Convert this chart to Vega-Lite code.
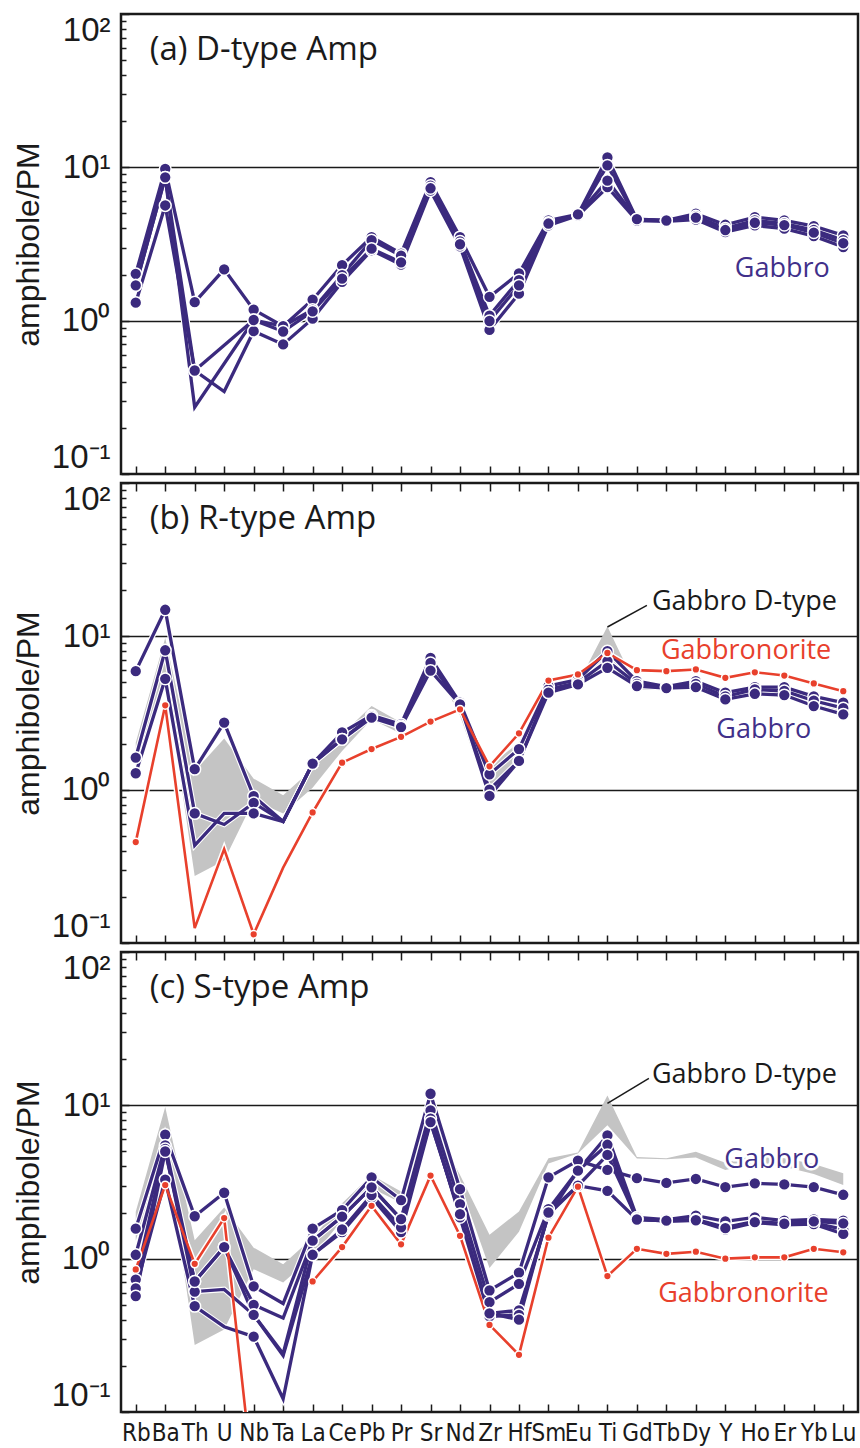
{
"$schema":"https://vega.github.io/schema/vega-lite/v6.json",
"background":"white",
"padding":{"left":11,"top":3,"right":2,"bottom":0},
"spacing":-4,
"config":{"view":{"stroke":"#1a1a1a","strokeWidth":2.5},"font":"Liberation Sans","axis":{"domain":false,"tickColor":"#1a1a1a","labelColor":"#1a1a1a","titleColor":"#1a1a1a"}},
"datasets":{
"a":[
{"sample":"D1","rock":"Gabbro","element":"Rb","value":2.02},{"sample":"D1","rock":"Gabbro","element":"Ba","value":9.76},{"sample":"D1","rock":"Gabbro","element":"Th","value":1.32},{"sample":"D1","rock":"Gabbro","element":"U","value":2.16},{"sample":"D1","rock":"Gabbro","element":"Nb","value":1.18},{"sample":"D1","rock":"Gabbro","element":"Ta","value":0.92},{"sample":"D1","rock":"Gabbro","element":"La","value":1.37},{"sample":"D1","rock":"Gabbro","element":"Ce","value":2.30},{"sample":"D1","rock":"Gabbro","element":"Pb","value":3.51},{"sample":"D1","rock":"Gabbro","element":"Pr","value":2.74},{"sample":"D1","rock":"Gabbro","element":"Sr","value":7.99},{"sample":"D1","rock":"Gabbro","element":"Nd","value":3.51},{"sample":"D1","rock":"Gabbro","element":"Zr","value":1.43},{"sample":"D1","rock":"Gabbro","element":"Hf","value":2.03},{"sample":"D1","rock":"Gabbro","element":"Sm","value":4.51},{"sample":"D1","rock":"Gabbro","element":"Eu","value":4.93},{"sample":"D1","rock":"Gabbro","element":"Ti","value":11.6},{"sample":"D1","rock":"Gabbro","element":"Gd","value":4.57},{"sample":"D1","rock":"Gabbro","element":"Tb","value":4.51},{"sample":"D1","rock":"Gabbro","element":"Dy","value":4.98},{"sample":"D1","rock":"Gabbro","element":"Y","value":4.22},{"sample":"D1","rock":"Gabbro","element":"Ho","value":4.73},{"sample":"D1","rock":"Gabbro","element":"Er","value":4.51},{"sample":"D1","rock":"Gabbro","element":"Yb","value":4.14},{"sample":"D1","rock":"Gabbro","element":"Lu","value":3.60},
{"sample":"D2","rock":"Gabbro","element":"Rb","value":1.70},{"sample":"D2","rock":"Gabbro","element":"Ba","value":8.61},{"sample":"D2","rock":"Gabbro","element":"Th","value":0.473},{"sample":"D2","rock":"Gabbro","element":"Nb","value":1.01},{"sample":"D2","rock":"Gabbro","element":"Ta","value":0.92},{"sample":"D2","rock":"Gabbro","element":"La","value":1.18},{"sample":"D2","rock":"Gabbro","element":"Ce","value":1.98},{"sample":"D2","rock":"Gabbro","element":"Pb","value":3.35},{"sample":"D2","rock":"Gabbro","element":"Pr","value":2.65},{"sample":"D2","rock":"Gabbro","element":"Sr","value":7.6},{"sample":"D2","rock":"Gabbro","element":"Nd","value":3.29},{"sample":"D2","rock":"Gabbro","element":"Zr","value":1.08},{"sample":"D2","rock":"Gabbro","element":"Hf","value":1.84},{"sample":"D2","rock":"Gabbro","element":"Sm","value":4.35},{"sample":"D2","rock":"Gabbro","element":"Eu","value":4.9},{"sample":"D2","rock":"Gabbro","element":"Ti","value":10.3},{"sample":"D2","rock":"Gabbro","element":"Gd","value":4.57},{"sample":"D2","rock":"Gabbro","element":"Tb","value":4.48},{"sample":"D2","rock":"Gabbro","element":"Dy","value":4.8},{"sample":"D2","rock":"Gabbro","element":"Y","value":4.0},{"sample":"D2","rock":"Gabbro","element":"Ho","value":4.5},{"sample":"D2","rock":"Gabbro","element":"Er","value":4.3},{"sample":"D2","rock":"Gabbro","element":"Yb","value":3.9},{"sample":"D2","rock":"Gabbro","element":"Lu","value":3.35},
{"sample":"D3","rock":"Gabbro","element":"Rb","value":1.31},{"sample":"D3","rock":"Gabbro","element":"Ba","value":5.64},{"sample":"D3","rock":"Gabbro","element":"Th","value":0.473},{"sample":"D3","rock":"Gabbro","element":"U","value":0.345,"bdl":true},{"sample":"D3","rock":"Gabbro","element":"Nb","value":0.854},{"sample":"D3","rock":"Gabbro","element":"Ta","value":0.70},{"sample":"D3","rock":"Gabbro","element":"La","value":1.03},{"sample":"D3","rock":"Gabbro","element":"Ce","value":1.79},{"sample":"D3","rock":"Gabbro","element":"Pb","value":2.88},{"sample":"D3","rock":"Gabbro","element":"Pr","value":2.32},{"sample":"D3","rock":"Gabbro","element":"Sr","value":7.05},{"sample":"D3","rock":"Gabbro","element":"Nd","value":3.05},{"sample":"D3","rock":"Gabbro","element":"Zr","value":0.87},{"sample":"D3","rock":"Gabbro","element":"Hf","value":1.50},{"sample":"D3","rock":"Gabbro","element":"Sm","value":4.18},{"sample":"D3","rock":"Gabbro","element":"Eu","value":4.85},{"sample":"D3","rock":"Gabbro","element":"Ti","value":7.42},{"sample":"D3","rock":"Gabbro","element":"Gd","value":4.5},{"sample":"D3","rock":"Gabbro","element":"Tb","value":4.45},{"sample":"D3","rock":"Gabbro","element":"Dy","value":4.57},{"sample":"D3","rock":"Gabbro","element":"Y","value":3.78},{"sample":"D3","rock":"Gabbro","element":"Ho","value":4.18},{"sample":"D3","rock":"Gabbro","element":"Er","value":3.98},{"sample":"D3","rock":"Gabbro","element":"Yb","value":3.56},{"sample":"D3","rock":"Gabbro","element":"Lu","value":3.02},
{"sample":"D4","rock":"Gabbro","element":"Rb","value":1.70},{"sample":"D4","rock":"Gabbro","element":"Ba","value":8.61},{"sample":"D4","rock":"Gabbro","element":"Th","value":0.273,"bdl":true},{"sample":"D4","rock":"Gabbro","element":"Nb","value":1.01},{"sample":"D4","rock":"Gabbro","element":"Ta","value":0.85},{"sample":"D4","rock":"Gabbro","element":"La","value":1.15},{"sample":"D4","rock":"Gabbro","element":"Ce","value":1.88},{"sample":"D4","rock":"Gabbro","element":"Pb","value":2.95},{"sample":"D4","rock":"Gabbro","element":"Pr","value":2.4},{"sample":"D4","rock":"Gabbro","element":"Sr","value":7.3},{"sample":"D4","rock":"Gabbro","element":"Nd","value":3.15},{"sample":"D4","rock":"Gabbro","element":"Zr","value":0.995},{"sample":"D4","rock":"Gabbro","element":"Hf","value":1.70},{"sample":"D4","rock":"Gabbro","element":"Sm","value":4.3},{"sample":"D4","rock":"Gabbro","element":"Eu","value":4.93},{"sample":"D4","rock":"Gabbro","element":"Ti","value":8.19},{"sample":"D4","rock":"Gabbro","element":"Gd","value":4.6},{"sample":"D4","rock":"Gabbro","element":"Tb","value":4.5},{"sample":"D4","rock":"Gabbro","element":"Dy","value":4.7},{"sample":"D4","rock":"Gabbro","element":"Y","value":3.9},{"sample":"D4","rock":"Gabbro","element":"Ho","value":4.35},{"sample":"D4","rock":"Gabbro","element":"Er","value":4.2},{"sample":"D4","rock":"Gabbro","element":"Yb","value":3.75},{"sample":"D4","rock":"Gabbro","element":"Lu","value":3.2}
],
"b":[
{"sample":"P1","rock":"Gabbro","element":"Rb","value":5.93},{"sample":"P1","rock":"Gabbro","element":"Ba","value":14.9},{"sample":"P1","rock":"Gabbro","element":"Th","value":1.36},{"sample":"P1","rock":"Gabbro","element":"U","value":2.74},{"sample":"P1","rock":"Gabbro","element":"Nb","value":0.907},{"sample":"P1","rock":"Gabbro","element":"Ta","value":0.62,"bdl":true},{"sample":"P1","rock":"Gabbro","element":"La","value":1.48},{"sample":"P1","rock":"Gabbro","element":"Ce","value":2.36},{"sample":"P1","rock":"Gabbro","element":"Pb","value":3.05},{"sample":"P1","rock":"Gabbro","element":"Pr","value":2.67},{"sample":"P1","rock":"Gabbro","element":"Sr","value":7.23},{"sample":"P1","rock":"Gabbro","element":"Nd","value":3.69},{"sample":"P1","rock":"Gabbro","element":"Zr","value":1.26},{"sample":"P1","rock":"Gabbro","element":"Hf","value":1.84},{"sample":"P1","rock":"Gabbro","element":"Sm","value":4.74},{"sample":"P1","rock":"Gabbro","element":"Eu","value":5.23},{"sample":"P1","rock":"Gabbro","element":"Ti","value":8.0},{"sample":"P1","rock":"Gabbro","element":"Gd","value":5.1},{"sample":"P1","rock":"Gabbro","element":"Tb","value":4.7},{"sample":"P1","rock":"Gabbro","element":"Dy","value":5.1},{"sample":"P1","rock":"Gabbro","element":"Y","value":4.29},{"sample":"P1","rock":"Gabbro","element":"Ho","value":4.66},{"sample":"P1","rock":"Gabbro","element":"Er","value":4.66},{"sample":"P1","rock":"Gabbro","element":"Yb","value":4.06},{"sample":"P1","rock":"Gabbro","element":"Lu","value":3.69},
{"sample":"P2","rock":"Gabbro","element":"Rb","value":1.62},{"sample":"P2","rock":"Gabbro","element":"Ba","value":8.11},{"sample":"P2","rock":"Gabbro","element":"Th","value":0.70},{"sample":"P2","rock":"Gabbro","element":"U","value":0.593,"bdl":true},{"sample":"P2","rock":"Gabbro","element":"Nb","value":0.82},{"sample":"P2","rock":"Gabbro","element":"Ta","value":0.62,"bdl":true},{"sample":"P2","rock":"Gabbro","element":"La","value":1.48},{"sample":"P2","rock":"Gabbro","element":"Ce","value":2.13},{"sample":"P2","rock":"Gabbro","element":"Pb","value":3.0},{"sample":"P2","rock":"Gabbro","element":"Pr","value":2.6},{"sample":"P2","rock":"Gabbro","element":"Sr","value":6.71},{"sample":"P2","rock":"Gabbro","element":"Nd","value":3.6},{"sample":"P2","rock":"Gabbro","element":"Zr","value":1.0},{"sample":"P2","rock":"Gabbro","element":"Hf","value":1.54},{"sample":"P2","rock":"Gabbro","element":"Sm","value":4.5},{"sample":"P2","rock":"Gabbro","element":"Eu","value":5.0},{"sample":"P2","rock":"Gabbro","element":"Ti","value":6.9},{"sample":"P2","rock":"Gabbro","element":"Gd","value":4.9},{"sample":"P2","rock":"Gabbro","element":"Tb","value":4.66},{"sample":"P2","rock":"Gabbro","element":"Dy","value":4.9},{"sample":"P2","rock":"Gabbro","element":"Y","value":4.05},{"sample":"P2","rock":"Gabbro","element":"Ho","value":4.5},{"sample":"P2","rock":"Gabbro","element":"Er","value":4.4},{"sample":"P2","rock":"Gabbro","element":"Yb","value":3.8},{"sample":"P2","rock":"Gabbro","element":"Lu","value":3.4},
{"sample":"P3","rock":"Gabbro","element":"Rb","value":1.28},{"sample":"P3","rock":"Gabbro","element":"Ba","value":5.28},{"sample":"P3","rock":"Gabbro","element":"Th","value":0.433,"bdl":true},{"sample":"P3","rock":"Gabbro","element":"U","value":0.70,"bdl":true},{"sample":"P3","rock":"Gabbro","element":"Nb","value":0.70},{"sample":"P3","rock":"Gabbro","element":"Ta","value":0.62,"bdl":true},{"sample":"P3","rock":"Gabbro","element":"La","value":1.48},{"sample":"P3","rock":"Gabbro","element":"Ce","value":2.13},{"sample":"P3","rock":"Gabbro","element":"Pb","value":2.95},{"sample":"P3","rock":"Gabbro","element":"Pr","value":2.56},{"sample":"P3","rock":"Gabbro","element":"Sr","value":5.98},{"sample":"P3","rock":"Gabbro","element":"Nd","value":3.6},{"sample":"P3","rock":"Gabbro","element":"Zr","value":0.91},{"sample":"P3","rock":"Gabbro","element":"Hf","value":1.54},{"sample":"P3","rock":"Gabbro","element":"Sm","value":4.29},{"sample":"P3","rock":"Gabbro","element":"Eu","value":4.86},{"sample":"P3","rock":"Gabbro","element":"Ti","value":6.23},{"sample":"P3","rock":"Gabbro","element":"Gd","value":4.74},{"sample":"P3","rock":"Gabbro","element":"Tb","value":4.6},{"sample":"P3","rock":"Gabbro","element":"Dy","value":4.66},{"sample":"P3","rock":"Gabbro","element":"Y","value":3.88},{"sample":"P3","rock":"Gabbro","element":"Ho","value":4.22},{"sample":"P3","rock":"Gabbro","element":"Er","value":4.14},{"sample":"P3","rock":"Gabbro","element":"Yb","value":3.51},{"sample":"P3","rock":"Gabbro","element":"Lu","value":3.1},
{"sample":"N1","rock":"Gabbronorite","element":"Rb","value":0.455},{"sample":"N1","rock":"Gabbronorite","element":"Ba","value":3.55},{"sample":"N1","rock":"Gabbronorite","element":"Th","value":0.125,"bdl":true},{"sample":"N1","rock":"Gabbronorite","element":"U","value":0.41,"bdl":true},{"sample":"N1","rock":"Gabbronorite","element":"Nb","value":0.114},{"sample":"N1","rock":"Gabbronorite","element":"Ta","value":0.31,"bdl":true},{"sample":"N1","rock":"Gabbronorite","element":"La","value":0.71},{"sample":"N1","rock":"Gabbronorite","element":"Ce","value":1.50},{"sample":"N1","rock":"Gabbronorite","element":"Pb","value":1.84},{"sample":"N1","rock":"Gabbronorite","element":"Pr","value":2.21},{"sample":"N1","rock":"Gabbronorite","element":"Sr","value":2.78},{"sample":"N1","rock":"Gabbronorite","element":"Nd","value":3.34},{"sample":"N1","rock":"Gabbronorite","element":"Zr","value":1.42},{"sample":"N1","rock":"Gabbronorite","element":"Hf","value":2.33},{"sample":"N1","rock":"Gabbronorite","element":"Sm","value":5.15},{"sample":"N1","rock":"Gabbronorite","element":"Eu","value":5.64},{"sample":"N1","rock":"Gabbronorite","element":"Ti","value":7.79},{"sample":"N1","rock":"Gabbronorite","element":"Gd","value":6.02},{"sample":"N1","rock":"Gabbronorite","element":"Tb","value":5.93},{"sample":"N1","rock":"Gabbronorite","element":"Dy","value":6.08},{"sample":"N1","rock":"Gabbronorite","element":"Y","value":5.36},{"sample":"N1","rock":"Gabbronorite","element":"Ho","value":5.83},{"sample":"N1","rock":"Gabbronorite","element":"Er","value":5.55},{"sample":"N1","rock":"Gabbronorite","element":"Yb","value":4.93},{"sample":"N1","rock":"Gabbronorite","element":"Lu","value":4.39}
],
"c":[
{"sample":"C1","rock":"Gabbro","element":"Rb","value":1.57},{"sample":"C1","rock":"Gabbro","element":"Ba","value":6.43},{"sample":"C1","rock":"Gabbro","element":"Th","value":1.89},{"sample":"C1","rock":"Gabbro","element":"U","value":2.69},{"sample":"C1","rock":"Gabbro","element":"Nb","value":0.66},{"sample":"C1","rock":"Gabbro","element":"Ta","value":0.51,"bdl":true},{"sample":"C1","rock":"Gabbro","element":"La","value":1.57},{"sample":"C1","rock":"Gabbro","element":"Ce","value":2.07},{"sample":"C1","rock":"Gabbro","element":"Pb","value":3.39},{"sample":"C1","rock":"Gabbro","element":"Pr","value":2.41},{"sample":"C1","rock":"Gabbro","element":"Sr","value":11.9},{"sample":"C1","rock":"Gabbro","element":"Nd","value":2.84},{"sample":"C1","rock":"Gabbro","element":"Zr","value":0.62},{"sample":"C1","rock":"Gabbro","element":"Hf","value":0.81},{"sample":"C1","rock":"Gabbro","element":"Sm","value":3.39},{"sample":"C1","rock":"Gabbro","element":"Eu","value":4.36},{"sample":"C1","rock":"Gabbro","element":"Ti","value":3.79},{"sample":"C1","rock":"Gabbro","element":"Gd","value":3.35},{"sample":"C1","rock":"Gabbro","element":"Tb","value":3.12},{"sample":"C1","rock":"Gabbro","element":"Dy","value":3.31},{"sample":"C1","rock":"Gabbro","element":"Y","value":2.93},{"sample":"C1","rock":"Gabbro","element":"Ho","value":3.10},{"sample":"C1","rock":"Gabbro","element":"Er","value":3.05},{"sample":"C1","rock":"Gabbro","element":"Yb","value":2.93},{"sample":"C1","rock":"Gabbro","element":"Lu","value":2.61},
{"sample":"C2","rock":"Gabbro","element":"Rb","value":1.06},{"sample":"C2","rock":"Gabbro","element":"Ba","value":5.47},{"sample":"C2","rock":"Gabbro","element":"Th","value":0.71},{"sample":"C2","rock":"Gabbro","element":"U","value":1.19},{"sample":"C2","rock":"Gabbro","element":"Nb","value":0.50},{"sample":"C2","rock":"Gabbro","element":"Ta","value":0.41,"bdl":true},{"sample":"C2","rock":"Gabbro","element":"La","value":1.31},{"sample":"C2","rock":"Gabbro","element":"Ce","value":1.88},{"sample":"C2","rock":"Gabbro","element":"Pb","value":2.92},{"sample":"C2","rock":"Gabbro","element":"Pr","value":1.81},{"sample":"C2","rock":"Gabbro","element":"Sr","value":9.27},{"sample":"C2","rock":"Gabbro","element":"Nd","value":2.27},{"sample":"C2","rock":"Gabbro","element":"Zr","value":0.52},{"sample":"C2","rock":"Gabbro","element":"Hf","value":0.685},{"sample":"C2","rock":"Gabbro","element":"Sm","value":2.1},{"sample":"C2","rock":"Gabbro","element":"Eu","value":3.75},{"sample":"C2","rock":"Gabbro","element":"Ti","value":6.36},{"sample":"C2","rock":"Gabbro","element":"Gd","value":1.86},{"sample":"C2","rock":"Gabbro","element":"Tb","value":1.80},{"sample":"C2","rock":"Gabbro","element":"Dy","value":1.91},{"sample":"C2","rock":"Gabbro","element":"Y","value":1.75},{"sample":"C2","rock":"Gabbro","element":"Ho","value":1.86},{"sample":"C2","rock":"Gabbro","element":"Er","value":1.77},{"sample":"C2","rock":"Gabbro","element":"Yb","value":1.80},{"sample":"C2","rock":"Gabbro","element":"Lu","value":1.77},
{"sample":"C3","rock":"Gabbro","element":"Rb","value":0.73},{"sample":"C3","rock":"Gabbro","element":"Ba","value":5.2},{"sample":"C3","rock":"Gabbro","element":"Th","value":0.61},{"sample":"C3","rock":"Gabbro","element":"U","value":0.63,"bdl":true},{"sample":"C3","rock":"Gabbro","element":"Nb","value":0.43},{"sample":"C3","rock":"Gabbro","element":"Ta","value":0.233,"bdl":true},{"sample":"C3","rock":"Gabbro","element":"La","value":1.06},{"sample":"C3","rock":"Gabbro","element":"Ce","value":1.49},{"sample":"C3","rock":"Gabbro","element":"Pb","value":2.51},{"sample":"C3","rock":"Gabbro","element":"Pr","value":1.49},{"sample":"C3","rock":"Gabbro","element":"Sr","value":7.78},{"sample":"C3","rock":"Gabbro","element":"Nd","value":1.95},{"sample":"C3","rock":"Gabbro","element":"Zr","value":0.44},{"sample":"C3","rock":"Gabbro","element":"Hf","value":0.46},{"sample":"C3","rock":"Gabbro","element":"Sm","value":1.92},{"sample":"C3","rock":"Gabbro","element":"Eu","value":3.75},{"sample":"C3","rock":"Gabbro","element":"Ti","value":5.53},{"sample":"C3","rock":"Gabbro","element":"Gd","value":1.80},{"sample":"C3","rock":"Gabbro","element":"Tb","value":1.77},{"sample":"C3","rock":"Gabbro","element":"Dy","value":1.80},{"sample":"C3","rock":"Gabbro","element":"Y","value":1.60},{"sample":"C3","rock":"Gabbro","element":"Ho","value":1.75},{"sample":"C3","rock":"Gabbro","element":"Er","value":1.69},{"sample":"C3","rock":"Gabbro","element":"Yb","value":1.71},{"sample":"C3","rock":"Gabbro","element":"Lu","value":1.55},
{"sample":"C4","rock":"Gabbro","element":"Rb","value":0.64},{"sample":"C4","rock":"Gabbro","element":"Ba","value":3.27},{"sample":"C4","rock":"Gabbro","element":"Th","value":0.49},{"sample":"C4","rock":"Gabbro","element":"U","value":0.36,"bdl":true},{"sample":"C4","rock":"Gabbro","element":"Nb","value":0.31},{"sample":"C4","rock":"Gabbro","element":"Ta","value":0.122,"bdl":true},{"sample":"C4","rock":"Gabbro","element":"La","value":1.06},{"sample":"C4","rock":"Gabbro","element":"Ce","value":1.55},{"sample":"C4","rock":"Gabbro","element":"Pb","value":2.6},{"sample":"C4","rock":"Gabbro","element":"Pr","value":1.6},{"sample":"C4","rock":"Gabbro","element":"Sr","value":8.2},{"sample":"C4","rock":"Gabbro","element":"Nd","value":1.86},{"sample":"C4","rock":"Gabbro","element":"Zr","value":0.42},{"sample":"C4","rock":"Gabbro","element":"Hf","value":0.43},{"sample":"C4","rock":"Gabbro","element":"Sm","value":1.95},{"sample":"C4","rock":"Gabbro","element":"Eu","value":2.99},{"sample":"C4","rock":"Gabbro","element":"Ti","value":4.75},{"sample":"C4","rock":"Gabbro","element":"Gd","value":1.82},{"sample":"C4","rock":"Gabbro","element":"Tb","value":1.75},{"sample":"C4","rock":"Gabbro","element":"Dy","value":1.78},{"sample":"C4","rock":"Gabbro","element":"Y","value":1.55},{"sample":"C4","rock":"Gabbro","element":"Ho","value":1.72},{"sample":"C4","rock":"Gabbro","element":"Er","value":1.66},{"sample":"C4","rock":"Gabbro","element":"Yb","value":1.68},{"sample":"C4","rock":"Gabbro","element":"Lu","value":1.45},
{"sample":"C5","rock":"Gabbro","element":"Rb","value":0.57},{"sample":"C5","rock":"Gabbro","element":"Ba","value":5.0},{"sample":"C5","rock":"Gabbro","element":"Th","value":0.71},{"sample":"C5","rock":"Gabbro","element":"U","value":1.19},{"sample":"C5","rock":"Gabbro","element":"Nb","value":0.43},{"sample":"C5","rock":"Gabbro","element":"Ta","value":0.24,"bdl":true},{"sample":"C5","rock":"Gabbro","element":"La","value":1.31},{"sample":"C5","rock":"Gabbro","element":"Ce","value":1.88},{"sample":"C5","rock":"Gabbro","element":"Pb","value":2.92},{"sample":"C5","rock":"Gabbro","element":"Pr","value":1.81},{"sample":"C5","rock":"Gabbro","element":"Sr","value":7.78},{"sample":"C5","rock":"Gabbro","element":"Nd","value":1.95},{"sample":"C5","rock":"Gabbro","element":"Zr","value":0.44},{"sample":"C5","rock":"Gabbro","element":"Hf","value":0.40},{"sample":"C5","rock":"Gabbro","element":"Sm","value":2.0},{"sample":"C5","rock":"Gabbro","element":"Eu","value":2.99},{"sample":"C5","rock":"Gabbro","element":"Ti","value":2.77},{"sample":"C5","rock":"Gabbro","element":"Gd","value":1.80},{"sample":"C5","rock":"Gabbro","element":"Tb","value":1.77},{"sample":"C5","rock":"Gabbro","element":"Dy","value":1.78},{"sample":"C5","rock":"Gabbro","element":"Y","value":1.58},{"sample":"C5","rock":"Gabbro","element":"Ho","value":1.73},{"sample":"C5","rock":"Gabbro","element":"Er","value":1.69},{"sample":"C5","rock":"Gabbro","element":"Yb","value":1.75},{"sample":"C5","rock":"Gabbro","element":"Lu","value":1.70},
{"sample":"N2a","rock":"Gabbronorite","element":"Rb","value":0.85},{"sample":"N2a","rock":"Gabbronorite","element":"Ba","value":3.02},{"sample":"N2a","rock":"Gabbronorite","element":"Th","value":0.925},{"sample":"N2a","rock":"Gabbronorite","element":"U","value":1.84},{"sample":"N2a","rock":"Gabbronorite","element":"Nb","value":0.033,"bdl":true},
{"sample":"N2b","rock":"Gabbronorite","element":"La","value":0.71},{"sample":"N2b","rock":"Gabbronorite","element":"Ce","value":1.19},{"sample":"N2b","rock":"Gabbronorite","element":"Pb","value":2.21},{"sample":"N2b","rock":"Gabbronorite","element":"Pr","value":1.24},{"sample":"N2b","rock":"Gabbronorite","element":"Sr","value":3.48},{"sample":"N2b","rock":"Gabbronorite","element":"Nd","value":1.41},{"sample":"N2b","rock":"Gabbronorite","element":"Zr","value":0.37},{"sample":"N2b","rock":"Gabbronorite","element":"Hf","value":0.236},{"sample":"N2b","rock":"Gabbronorite","element":"Sm","value":1.37},{"sample":"N2b","rock":"Gabbronorite","element":"Eu","value":2.95},{"sample":"N2b","rock":"Gabbronorite","element":"Ti","value":0.77},{"sample":"N2b","rock":"Gabbronorite","element":"Gd","value":1.16},{"sample":"N2b","rock":"Gabbronorite","element":"Tb","value":1.075},{"sample":"N2b","rock":"Gabbronorite","element":"Dy","value":1.11},{"sample":"N2b","rock":"Gabbronorite","element":"Y","value":1.0},{"sample":"N2b","rock":"Gabbronorite","element":"Ho","value":1.02},{"sample":"N2b","rock":"Gabbronorite","element":"Er","value":1.02},{"sample":"N2b","rock":"Gabbronorite","element":"Yb","value":1.16},{"sample":"N2b","rock":"Gabbronorite","element":"Lu","value":1.10}
]
},
"vconcat":[
{
"width":737,"height":460,
"data":{"name":"a"},
"resolve":{"axis":{"x":"independent","y":"independent"}},
"encoding":{
"x":{"field":"element","type":"ordinal","sort":["Rb","Ba","Th","U","Nb","Ta","La","Ce","Pb","Pr","Sr","Nd","Zr","Hf","Sm","Eu","Ti","Gd","Tb","Dy","Y","Ho","Er","Yb","Lu"],"scale":{"type":"point","padding":0.5},"axis":null},
"y":{"field":"value","type":"quantitative","scale":{"type":"log","domain":[0.1,100],"nice":false},"axis":null}
},
"layer":[
{"mark":{"type":"line","color":"white","strokeWidth":5.5,"clip":true},
 "encoding":{"detail":{"field":"sample"},
 "x":{"field":"element","type":"ordinal","sort":["Rb","Ba","Th","U","Nb","Ta","La","Ce","Pb","Pr","Sr","Nd","Zr","Hf","Sm","Eu","Ti","Gd","Tb","Dy","Y","Ho","Er","Yb","Lu"],"scale":{"type":"point","padding":0.5},"axis":{"orient":"bottom","labels":false,"tickSize":-8,"tickWidth":1.5,"grid":false,"title":null}}}},
{"mark":{"type":"line","clip":true},
 "encoding":{"detail":{"field":"sample"},
 "color":{"field":"rock","type":"nominal","scale":{"domain":["Gabbro","Gabbronorite"],"range":["#3b2a7e","#e8402c"]},"legend":null},
 "strokeWidth":{"field":"rock","type":"ordinal","scale":{"domain":["Gabbro","Gabbronorite"],"range":[3.3,2.6]},"legend":null},
 "y":{"field":"value","type":"quantitative","scale":{"type":"log","domain":[0.1,100],"nice":false},
  "axis":{"orient":"left","values":[0.1,0.2,0.3,0.4,0.5,0.6,0.7,0.8,0.9,1,2,3,4,5,6,7,8,9,10,20,30,40,50,60,70,80,90,100],"labelExpr":"datum.value==100?'10²':datum.value==10?'10¹':datum.value==1?'10⁰':datum.value==0.1?'10⁻¹':''","labelFont":"Liberation Sans","labelFontSize":33,"labelFlush":true,"labelOverlap":false,"labelPadding":19,"tickSize":{"condition":{"test":"datum.value==0.1||datum.value==1||datum.value==10||datum.value==100","value":-8},"value":-5},"tickWidth":1.5,"grid":true,"gridColor":"#1a1a1a","gridWidth":1.3,"gridOpacity":{"condition":{"test":"datum.value==1||datum.value==10","value":1},"value":0},"title":"amphibole/PM","titleFont":"Liberation Sans","titleFontSize":32,"titleFontWeight":"normal","titlePadding":6}}}},
{"transform":[{"filter":"!datum.bdl"}],
 "mark":{"type":"point","filled":true,"stroke":"white","strokeWidth":1.5,"opacity":1,"clip":true},
 "encoding":{"color":{"field":"rock","type":"nominal","scale":{"domain":["Gabbro","Gabbronorite"],"range":["#3b2a7e","#e8402c"]},"legend":null},
 "size":{"field":"rock","type":"ordinal","scale":{"domain":["Gabbro","Gabbronorite"],"range":[140,60]},"legend":null}}},
{"data":{"values":[{"element":"Rb","value":58,"label":"(a) D-type Amp"}]},
 "mark":{"type":"text","align":"left","baseline":"middle","dx":14,"font":"Open Sans","fontSize":33,"color":"#1a1a1a"},
 "encoding":{"text":{"field":"label"}}},
{"data":{"values":[{"element":"Er","value":2.17,"label":"Gabbro"}]},
 "mark":{"type":"text","align":"center","baseline":"middle","dx":-2,"font":"Open Sans","fontSize":27,"color":"#41308a"},
 "encoding":{"text":{"field":"label"}}}
]
},
{
"width":737,"height":460,
"data":{"name":"b"},
"resolve":{"axis":{"x":"independent","y":"independent"}},
"encoding":{
"x":{"field":"element","type":"ordinal","sort":["Rb","Ba","Th","U","Nb","Ta","La","Ce","Pb","Pr","Sr","Nd","Zr","Hf","Sm","Eu","Ti","Gd","Tb","Dy","Y","Ho","Er","Yb","Lu"],"scale":{"type":"point","padding":0.5},"axis":null},
"y":{"field":"value","type":"quantitative","scale":{"type":"log","domain":[0.1,100],"nice":false},"axis":null}
},
"layer":[
{"data":{"name":"a"},
 "transform":[{"aggregate":[{"op":"min","field":"value","as":"lo"},{"op":"max","field":"value","as":"hi"}],"groupby":["element"]}],
 "mark":{"type":"area","color":"#c4c4c4","opacity":1,"clip":true},
 "encoding":{
 "x":{"field":"element","type":"ordinal","sort":["Rb","Ba","Th","U","Nb","Ta","La","Ce","Pb","Pr","Sr","Nd","Zr","Hf","Sm","Eu","Ti","Gd","Tb","Dy","Y","Ho","Er","Yb","Lu"],"scale":{"type":"point","padding":0.5},"axis":{"orient":"top","labels":false,"tickSize":-8,"tickWidth":1.5,"grid":false,"title":null}},
 "y":{"field":"lo","type":"quantitative","scale":{"type":"log","domain":[0.1,100],"nice":false},"axis":null},
 "y2":{"field":"hi"}}},
{"mark":{"type":"line","color":"white","strokeWidth":5.5,"clip":true},
 "encoding":{"detail":{"field":"sample"},
 "x":{"field":"element","type":"ordinal","sort":["Rb","Ba","Th","U","Nb","Ta","La","Ce","Pb","Pr","Sr","Nd","Zr","Hf","Sm","Eu","Ti","Gd","Tb","Dy","Y","Ho","Er","Yb","Lu"],"scale":{"type":"point","padding":0.5},"axis":{"orient":"bottom","labels":false,"tickSize":-8,"tickWidth":1.5,"grid":false,"title":null}}}},
{"mark":{"type":"line","clip":true},
 "encoding":{"detail":{"field":"sample"},
 "color":{"field":"rock","type":"nominal","scale":{"domain":["Gabbro","Gabbronorite"],"range":["#3b2a7e","#e8402c"]},"legend":null},
 "strokeWidth":{"field":"rock","type":"ordinal","scale":{"domain":["Gabbro","Gabbronorite"],"range":[3.3,2.6]},"legend":null},
 "y":{"field":"value","type":"quantitative","scale":{"type":"log","domain":[0.1,100],"nice":false},
  "axis":{"orient":"left","values":[0.1,0.2,0.3,0.4,0.5,0.6,0.7,0.8,0.9,1,2,3,4,5,6,7,8,9,10,20,30,40,50,60,70,80,90,100],"labelExpr":"datum.value==100?'10²':datum.value==10?'10¹':datum.value==1?'10⁰':datum.value==0.1?'10⁻¹':''","labelFont":"Liberation Sans","labelFontSize":33,"labelFlush":true,"labelOverlap":false,"labelPadding":19,"tickSize":{"condition":{"test":"datum.value==0.1||datum.value==1||datum.value==10||datum.value==100","value":-8},"value":-5},"tickWidth":1.5,"grid":true,"gridColor":"#1a1a1a","gridWidth":1.3,"gridOpacity":{"condition":{"test":"datum.value==1||datum.value==10","value":1},"value":0},"title":"amphibole/PM","titleFont":"Liberation Sans","titleFontSize":32,"titleFontWeight":"normal","titlePadding":6}}}},
{"transform":[{"filter":"!datum.bdl"}],
 "mark":{"type":"point","filled":true,"stroke":"white","strokeWidth":1.5,"opacity":1,"clip":true},
 "encoding":{"color":{"field":"rock","type":"nominal","scale":{"domain":["Gabbro","Gabbronorite"],"range":["#3b2a7e","#e8402c"]},"legend":null},
 "size":{"field":"rock","type":"ordinal","scale":{"domain":["Gabbro","Gabbronorite"],"range":[140,60]},"legend":null}}},
{"data":{"values":[{"element":"Ti","value":11.5,"element2":"Gd","value2":15.9}]},
 "mark":{"type":"rule","color":"#1a1a1a","strokeWidth":1.5,"x2Offset":10},
 "encoding":{"x2":{"field":"element2"},"y2":{"field":"value2"}}},
{"data":{"values":[{"element":"Rb","value":58,"label":"(b) R-type Amp"}]},
 "mark":{"type":"text","align":"left","baseline":"middle","dx":14,"font":"Open Sans","fontSize":33,"color":"#1a1a1a"},
 "encoding":{"text":{"field":"label"}}},
{"data":{"values":[{"element":"Gd","value":16.7,"label":"Gabbro D-type"}]},
 "mark":{"type":"text","align":"left","baseline":"middle","dx":15,"font":"Open Sans","fontSize":27,"color":"#1a1a1a"},
 "encoding":{"text":{"field":"label"}}},
{"data":{"values":[{"element":"Gd","value":8.07,"label":"Gabbronorite"}]},
 "mark":{"type":"text","align":"left","baseline":"middle","dx":24,"font":"Open Sans","fontSize":27,"color":"#e8402c"},
 "encoding":{"text":{"field":"label"}}},
{"data":{"values":[{"element":"Ho","value":2.46,"label":"Gabbro"}]},
 "mark":{"type":"text","align":"center","baseline":"middle","dx":9,"font":"Open Sans","fontSize":27,"color":"#41308a"},
 "encoding":{"text":{"field":"label"}}}
]
},
{
"width":737,"height":460,
"data":{"name":"c"},
"resolve":{"axis":{"x":"independent","y":"independent"}},
"encoding":{
"x":{"field":"element","type":"ordinal","sort":["Rb","Ba","Th","U","Nb","Ta","La","Ce","Pb","Pr","Sr","Nd","Zr","Hf","Sm","Eu","Ti","Gd","Tb","Dy","Y","Ho","Er","Yb","Lu"],"scale":{"type":"point","padding":0.5},"axis":null},
"y":{"field":"value","type":"quantitative","scale":{"type":"log","domain":[0.1,100],"nice":false},"axis":null}
},
"layer":[
{"data":{"name":"a"},
 "transform":[{"aggregate":[{"op":"min","field":"value","as":"lo"},{"op":"max","field":"value","as":"hi"}],"groupby":["element"]}],
 "mark":{"type":"area","color":"#c4c4c4","opacity":1,"clip":true},
 "encoding":{
 "x":{"field":"element","type":"ordinal","sort":["Rb","Ba","Th","U","Nb","Ta","La","Ce","Pb","Pr","Sr","Nd","Zr","Hf","Sm","Eu","Ti","Gd","Tb","Dy","Y","Ho","Er","Yb","Lu"],"scale":{"type":"point","padding":0.5},"axis":{"orient":"top","labels":false,"tickSize":-8,"tickWidth":1.5,"grid":false,"title":null}},
 "y":{"field":"lo","type":"quantitative","scale":{"type":"log","domain":[0.1,100],"nice":false},"axis":null},
 "y2":{"field":"hi"}}},
{"mark":{"type":"line","color":"white","strokeWidth":5.5,"clip":true},
 "encoding":{"detail":{"field":"sample"},
 "x":{"field":"element","type":"ordinal","sort":["Rb","Ba","Th","U","Nb","Ta","La","Ce","Pb","Pr","Sr","Nd","Zr","Hf","Sm","Eu","Ti","Gd","Tb","Dy","Y","Ho","Er","Yb","Lu"],"scale":{"type":"point","padding":0.5},"axis":{"orient":"bottom","labels":true,"labelAngle":0,"labelFont":"DejaVu Sans Condensed, Liberation Sans","labelFontSize":24,"labelPadding":17,"labelOverlap":false,"tickSize":-8,"tickWidth":1.5,"grid":false,"title":null}}}},
{"mark":{"type":"line","clip":true},
 "encoding":{"detail":{"field":"sample"},
 "color":{"field":"rock","type":"nominal","scale":{"domain":["Gabbro","Gabbronorite"],"range":["#3b2a7e","#e8402c"]},"legend":null},
 "strokeWidth":{"field":"rock","type":"ordinal","scale":{"domain":["Gabbro","Gabbronorite"],"range":[3.3,2.6]},"legend":null},
 "y":{"field":"value","type":"quantitative","scale":{"type":"log","domain":[0.1,100],"nice":false},
  "axis":{"orient":"left","values":[0.1,0.2,0.3,0.4,0.5,0.6,0.7,0.8,0.9,1,2,3,4,5,6,7,8,9,10,20,30,40,50,60,70,80,90,100],"labelExpr":"datum.value==100?'10²':datum.value==10?'10¹':datum.value==1?'10⁰':datum.value==0.1?'10⁻¹':''","labelFont":"Liberation Sans","labelFontSize":33,"labelFlush":true,"labelOverlap":false,"labelPadding":19,"tickSize":{"condition":{"test":"datum.value==0.1||datum.value==1||datum.value==10||datum.value==100","value":-8},"value":-5},"tickWidth":1.5,"grid":true,"gridColor":"#1a1a1a","gridWidth":1.3,"gridOpacity":{"condition":{"test":"datum.value==1||datum.value==10","value":1},"value":0},"title":"amphibole/PM","titleFont":"Liberation Sans","titleFontSize":32,"titleFontWeight":"normal","titlePadding":6}}}},
{"transform":[{"filter":"!datum.bdl"}],
 "mark":{"type":"point","filled":true,"stroke":"white","strokeWidth":1.5,"opacity":1,"clip":true},
 "encoding":{"color":{"field":"rock","type":"nominal","scale":{"domain":["Gabbro","Gabbronorite"],"range":["#3b2a7e","#e8402c"]},"legend":null},
 "size":{"field":"rock","type":"ordinal","scale":{"domain":["Gabbro","Gabbronorite"],"range":[140,60]},"legend":null}}},
{"data":{"values":[{"element":"Ti","value":10.3,"element2":"Gd","value2":15.0}]},
 "mark":{"type":"rule","color":"#1a1a1a","strokeWidth":1.5,"x2Offset":12},
 "encoding":{"x2":{"field":"element2"},"y2":{"field":"value2"}}},
{"data":{"values":[{"element":"Rb","value":58,"label":"(c) S-type Amp"}]},
 "mark":{"type":"text","align":"left","baseline":"middle","dx":14,"font":"Open Sans","fontSize":33,"color":"#1a1a1a"},
 "encoding":{"text":{"field":"label"}}},
{"data":{"values":[{"element":"Gd","value":15.7,"label":"Gabbro D-type"}]},
 "mark":{"type":"text","align":"left","baseline":"middle","dx":15,"font":"Open Sans","fontSize":27,"color":"#1a1a1a"},
 "encoding":{"text":{"field":"label"}}},
{"data":{"values":[{"element":"Ho","value":4.39,"label":"Gabbro"}]},
 "mark":{"type":"text","align":"center","baseline":"middle","dx":17,"font":"Open Sans","fontSize":27,"color":"white","stroke":"white","strokeWidth":5},
 "encoding":{"text":{"field":"label"}}},
{"data":{"values":[{"element":"Ho","value":4.39,"label":"Gabbro"}]},
 "mark":{"type":"text","align":"center","baseline":"middle","dx":17,"font":"Open Sans","fontSize":27,"color":"#41308a"},
 "encoding":{"text":{"field":"label"}}},
{"data":{"values":[{"element":"Y","value":0.589,"label":"Gabbronorite"}]},
 "mark":{"type":"text","align":"center","baseline":"middle","dx":18,"font":"Open Sans","fontSize":27,"color":"#e8402c"},
 "encoding":{"text":{"field":"label"}}}
]
}
]
}
